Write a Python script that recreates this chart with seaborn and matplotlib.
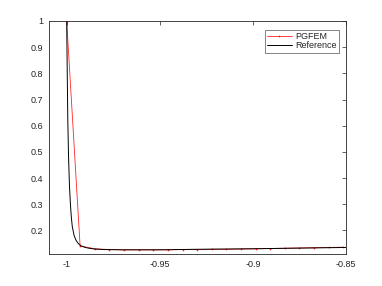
import numpy as np
import pandas as pd
import matplotlib
matplotlib.use("Agg")
import matplotlib.pyplot as plt
import seaborn as sns

# PGFEM solution
pg_x = [-1.0, -0.9928, -0.9849, -0.9771, -0.9692, -0.9614, -0.9535, -0.9457, -0.9378,
        -0.9299, -0.9221, -0.9142, -0.9064, -0.8985, -0.8907, -0.8828, -0.8750,
        -0.8671, -0.8593, -0.8514]
pg_y = [1.0, 0.141, 0.130, 0.127, 0.126, 0.126, 0.126, 0.126, 0.127,
        0.127, 0.128, 0.128, 0.129, 0.130, 0.131, 0.132, 0.133,
        0.134, 0.135, 0.136]

# reference curve
ref_x = [-1.0, -0.9997, -0.9994, -0.999, -0.9985, -0.998, -0.9975, -0.997, -0.996,
         -0.995, -0.994, -0.993, -0.992, -0.99, -0.988, -0.985, -0.98, -0.97,
         -0.96, -0.95, -0.93, -0.9, -0.87, -0.85]
ref_y = [1.0, 0.80, 0.62, 0.48, 0.37, 0.30, 0.25, 0.215, 0.18,
         0.163, 0.152, 0.145, 0.140, 0.135, 0.132, 0.129, 0.127, 0.126,
         0.126, 0.126, 0.128, 0.130, 0.133, 0.135]

pg = pd.DataFrame({"x": pg_x, "y": pg_y})
ref = pd.DataFrame({"x": ref_x, "y": ref_y})

sns.set_style("white")
plt.rcParams["font.family"] = ["Liberation Sans", "DejaVu Sans"]

fig = plt.figure(figsize=(3.82, 2.86), dpi=100)
ax = fig.add_axes([49 / 382, 1 - 254 / 286, 297 / 382, 233 / 286])

sns.lineplot(data=pg, x="x", y="y", ax=ax, color="#ff0000", lw=0.6,
             marker=".", markersize=2.5, markeredgewidth=0, label="PGFEM", alpha=0.85)
sns.lineplot(data=ref, x="x", y="y", ax=ax, color="black", lw=0.7, label="Reference")

ax.set_xlim(-1.0095, -0.85)
ax.set_ylim(0.11, 1.0)
ax.set_xticks([-1, -0.95, -0.9, -0.85])
ax.set_xticklabels(["-1", "-0.95", "-0.9", "-0.85"])
ax.set_yticks([0.2, 0.3, 0.4, 0.5, 0.6, 0.7, 0.8, 0.9, 1])
ax.set_yticklabels(["0.2", "0.3", "0.4", "0.5", "0.6", "0.7", "0.8", "0.9", "1"])
ax.set_xlabel("")
ax.set_ylabel("")
ax.tick_params(direction="in", length=3, width=0.5, labelsize=6.5, colors="#262626",
               top=True, right=True, pad=4)
for s in ax.spines.values():
    s.set_linewidth(0.6)
    s.set_color("#262626")

leg = ax.legend(loc="upper right", fontsize=6.5, frameon=True, fancybox=False,
                handlelength=2.8, handletextpad=0.3, borderpad=0.25, labelspacing=0.05,
                bbox_to_anchor=(0.99, 0.982))
leg.get_frame().set_edgecolor("#262626")
leg.get_frame().set_linewidth(0.5)

fig.savefig("out.png", dpi=100)
